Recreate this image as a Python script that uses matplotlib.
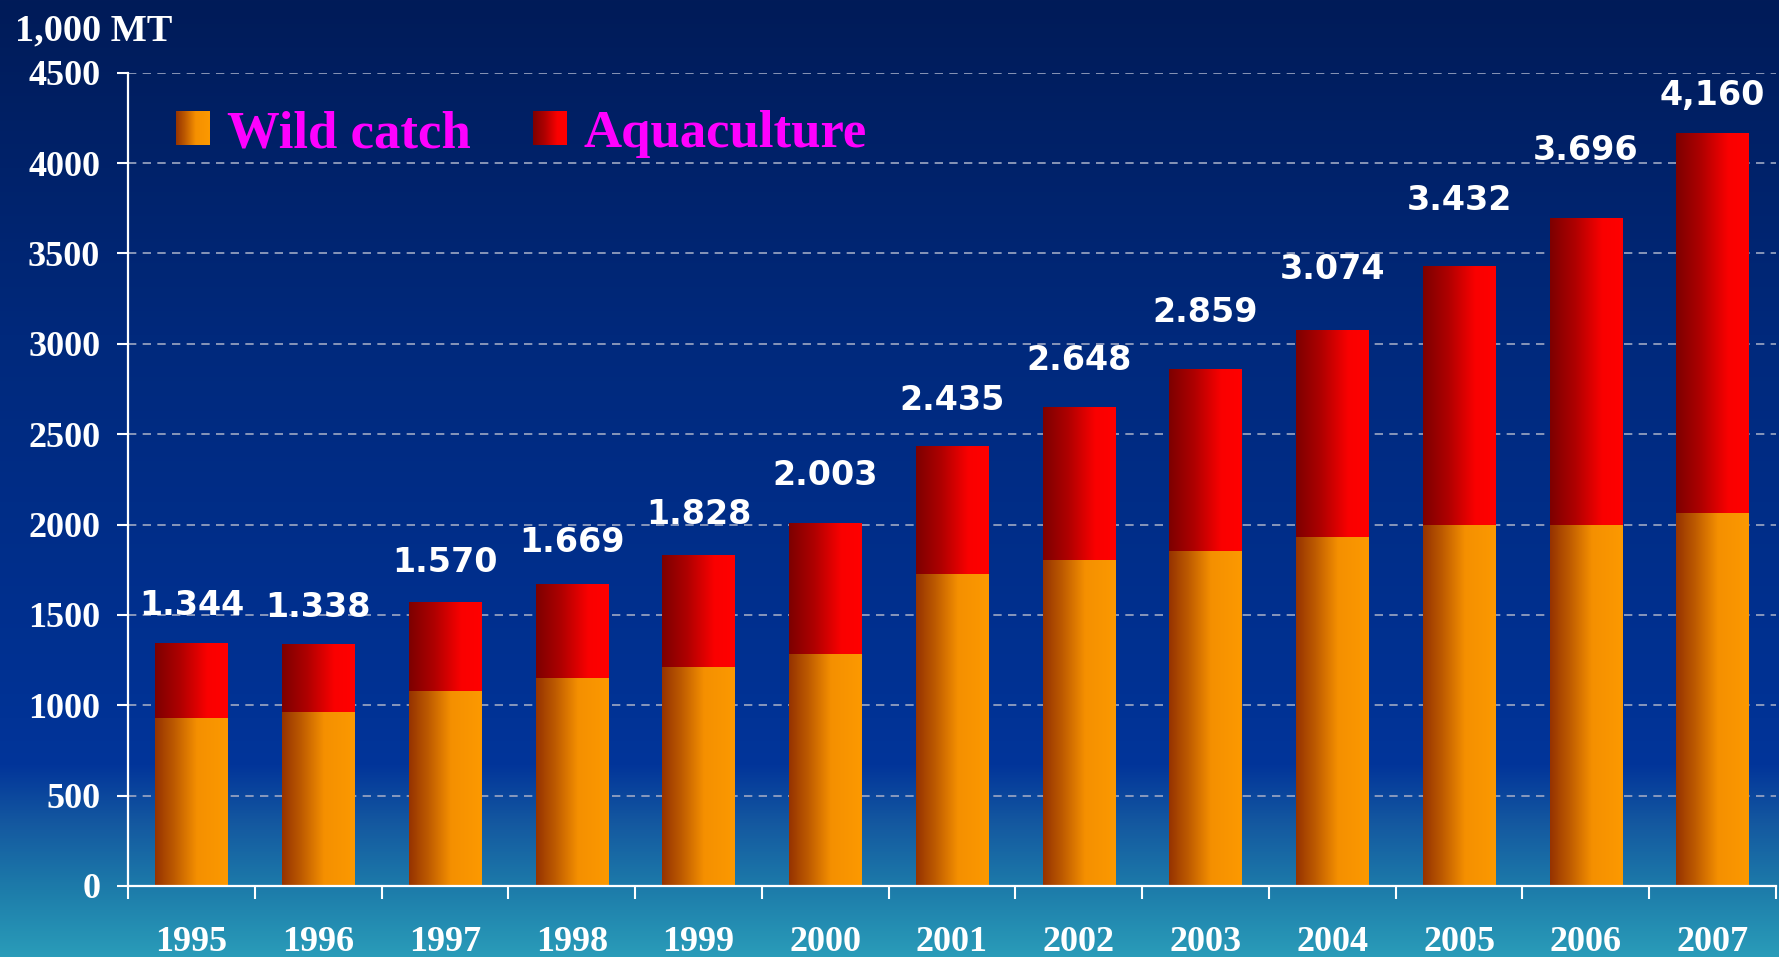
import numpy as np
import matplotlib
matplotlib.use("Agg")
import matplotlib.pyplot as plt
from matplotlib.colors import to_rgb

# ---------------- data ----------------
years = ["1995", "1996", "1997", "1998", "1999", "2000", "2001",
         "2002", "2003", "2004", "2005", "2006", "2007"]
wild_catch = [930, 965, 1080, 1150, 1213, 1282, 1728, 1804, 1854, 1930, 2000, 2000, 2062]
totals = [1344, 1338, 1570, 1669, 1828, 2003, 2435, 2648, 2859, 3074, 3432, 3696, 4160]
total_labels = ["1.344", "1.338", "1.570", "1.669", "1.828", "2.003", "2.435",
                "2.648", "2.859", "3.074", "3.432", "3.696", "4,160"]
aquaculture = [t - w for t, w in zip(totals, wild_catch)]
y_ticks = [0, 500, 1000, 1500, 2000, 2500, 3000, 3500, 4000, 4500]

# label offsets above bar tops (points) - styling
label_gap = [20, 19.5, 21.5, 23, 23, 28, 26, 27, 34, 37, 40, 42, 21]

W, H = 1779, 957
fig = plt.figure(figsize=(W / 100, H / 100), dpi=100)


def grad(stops, n=256, vertical=False):
    pos = np.array([s[0] for s in stops])
    cols = np.array([to_rgb(s[1]) for s in stops])
    t = np.linspace(0, 1, n)
    arr = np.stack([np.interp(t, pos, cols[:, k]) for k in range(3)], axis=-1)
    if vertical:
        return arr[:, None, :]
    return arr[None, :, :]


# background gradient (top -> bottom)
bg = fig.add_axes([0, 0, 1, 1])
bg.axis("off")
bg_img = grad([(0.0, "#011b58"), (0.35, "#00297c"), (0.70, "#003192"),
               (0.80, "#02359a"), (0.86, "#1458a0"), (0.93, "#1d7caa"),
               (1.0, "#2a9cb9")], n=H, vertical=True)
bg.imshow(bg_img, aspect="auto", extent=[0, 1, 0, 1], origin="upper")
bg.set_xlim(0, 1)
bg.set_ylim(0, 1)

# main axes
left, right, bottom, top = 128, 1776, 886, 72.7
ax = fig.add_axes([left / W, (H - bottom) / H, (right - left) / W, (bottom - top) / H])
ax.patch.set_alpha(0)

x = np.arange(len(years))
bw = 0.57
wild_grad = grad([(0.0, "#963300"), (0.25, "#bb5800"), (0.58, "#f59000"), (1.0, "#fc9900")])
aqua_grad = grad([(0.0, "#7d0000"), (0.35, "#b00000"), (0.72, "#fa0000"), (1.0, "#ff0000")])

b1 = ax.bar(x, wild_catch, width=bw, color="none", edgecolor="none", zorder=2)
b2 = ax.bar(x, aquaculture, width=bw, bottom=wild_catch, color="none",
            edgecolor="none", zorder=2)
for bars, g in ((b1, wild_grad), (b2, aqua_grad)):
    for r in bars:
        x0, y0 = r.get_x(), r.get_y()
        ax.imshow(g, extent=[x0, x0 + r.get_width(), y0, y0 + r.get_height()],
                  aspect="auto", zorder=2, interpolation="bilinear")

for i, (t, lab) in enumerate(zip(totals, total_labels)):
    ax.annotate(lab, xy=(x[i], t), xytext=(0, label_gap[i]), textcoords="offset points",
                ha="center", va="baseline", color="white", fontsize=24,
                fontweight="bold", family="DejaVu Sans", zorder=5)

ax.set_xlim(-0.5, len(years) - 0.5)
ax.set_ylim(0, 4500)

# grid
ax.set_axisbelow(True)
ax.yaxis.grid(True, color="#9ea8c4", linestyle=(0, (5, 3.8)), linewidth=1.2)
ax.xaxis.grid(False)

for s in ("top", "right"):
    ax.spines[s].set_visible(False)
for s in ("left", "bottom"):
    ax.spines[s].set_color("white")
    ax.spines[s].set_linewidth(1.6)
    ax.spines[s].set_zorder(4)

serif = "Liberation Serif"
ax.set_yticks(y_ticks)
ax.set_yticklabels([str(v) for v in y_ticks], fontsize=26, fontweight="bold",
                   family=serif, color="white")
ax.tick_params(axis="y", direction="out", length=8, width=1.5, color="white", pad=12)

ax.set_xticks(x)
ax.set_xticklabels(years, fontsize=26, fontweight="bold", family=serif, color="white")
ax.tick_params(axis="x", which="major", length=0, pad=29)
ax.set_xticks(np.arange(-0.5, len(years), 1.0), minor=True)
ax.tick_params(axis="x", which="minor", direction="out", length=9, width=1.5, color="white")

# unit label
fig.text(15 / W, 1 - 40 / H, "1,000 MT", color="white", fontsize=27.5, fontweight="bold",
         family=serif, ha="left", va="baseline")

# legend (manual gradient swatches)
for (sx, label, tx), g in (((176, "Wild catch", 227), wild_grad),
                           ((533, "Aquaculture", 584), aqua_grad)):
    sw = fig.add_axes([sx / W, (H - 145) / H, 34 / W, 34 / H])
    sw.imshow(g, aspect="auto", extent=[0, 1, 0, 1], interpolation="bilinear")
    sw.axis("off")
    fig.text(tx / W, 1 - 147 / H, label, color="#ff00ff", fontsize=38, fontweight="bold",
             family=serif, ha="left", va="baseline")

fig.savefig("out.png", dpi=100)
